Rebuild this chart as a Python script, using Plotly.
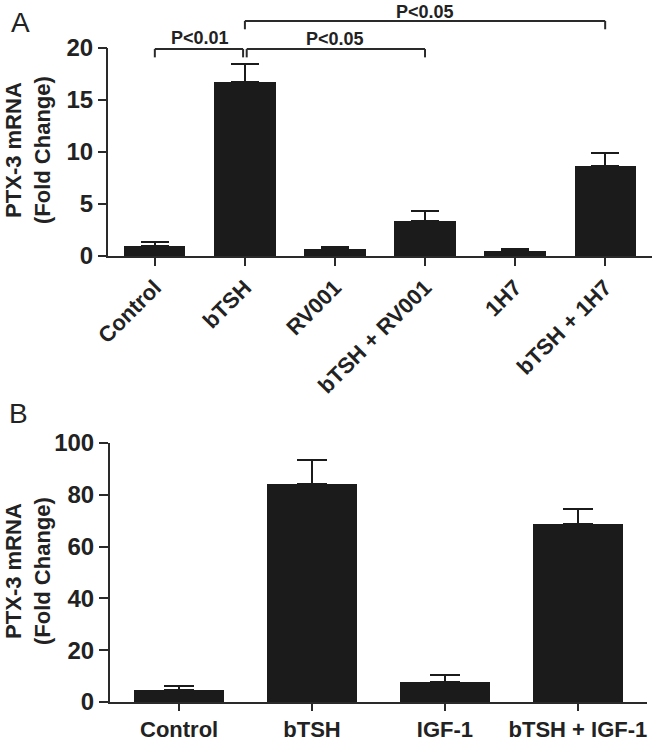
import plotly.graph_objects as go

# ---------------- data ----------------
cats_a = ["Control", "bTSH", "RV001", "bTSH + RV001", "1H7", "bTSH + 1H7"]
mean_a = [1.0, 16.7, 0.72, 3.4, 0.47, 8.7]
sem_a = [0.32, 1.8, 0.17, 0.9, 0.17, 1.2]

cats_b = ["Control", "bTSH", "IGF-1", "bTSH + IGF-1"]
mean_b = [4.8, 84.2, 7.6, 68.6]
sem_b = [1.4, 9.2, 2.7, 5.9]

yticks_a = [0, 5, 10, 15, 20]
yticks_b = [0, 20, 40, 60, 80, 100]

# significance comparisons (from index, to index, label)
comparisons = [(0, 1, "P<0.01"), (1, 3, "P<0.05"), (1, 5, "P<0.05")]

# ---------------- style ----------------
W, H = 652, 745
FONT = "Liberation Sans, Arial, Helvetica, sans-serif"
BAR = "#1b1b1b"
AX = "#2a2a2a"
TXT = "#222222"

xa_dom = [108 / W, 1.0]
ya_dom = [1 - 256 / H, 1.0]
ya_top = 256 / 10.4
xb_dom = [110 / W, 647 / W]
yb_dom = [1 - 702 / H, 1 - 443 / H]

fig = go.Figure()
fig.add_trace(go.Bar(
    x=cats_a, y=mean_a, width=0.68, marker=dict(color=BAR, line=dict(width=0)),
    error_y=dict(type="data", symmetric=False, array=sem_a, arrayminus=[0] * len(sem_a),
                 thickness=2, width=14, color=BAR),
    xaxis="x", yaxis="y", showlegend=False, hoverinfo="skip"))
fig.add_trace(go.Bar(
    x=cats_b, y=mean_b, width=0.68, marker=dict(color=BAR, line=dict(width=0)),
    error_y=dict(type="data", symmetric=False, array=sem_b, arrayminus=[0] * len(sem_b),
                 thickness=2, width=15, color=BAR),
    xaxis="x2", yaxis="y2", showlegend=False, hoverinfo="skip"))

tickfont_y = dict(family=FONT, size=24, color=TXT, weight="bold")
common = dict(automargin=False, showgrid=False, zeroline=False, tickwidth=2, tickcolor=AX,
              ticks="outside")

fig.update_layout(
    template="none",
    width=W, height=H, margin=dict(l=0, r=0, t=0, b=0, pad=0), autosize=False,
    paper_bgcolor="white", plot_bgcolor="white",
    bargap=0,
    xaxis=dict(domain=xa_dom, anchor="y", type="category", categoryorder="array",
               categoryarray=cats_a, range=[-0.52, len(cats_a) - 0.48],
               showline=True, linewidth=2, linecolor=AX, ticklen=8, tickangle=-45,
               tickfont=dict(family=FONT, size=22, color=TXT, weight="bold"), **common),
    yaxis=dict(domain=ya_dom, anchor="x", range=[0, ya_top], tickvals=yticks_a,
               showline=False, ticklen=9, tickfont=tickfont_y, **common),
    xaxis2=dict(domain=xb_dom, anchor="y2", type="category", categoryorder="array",
                categoryarray=cats_b, range=[-0.52, len(cats_b) - 0.48],
                showline=True, linewidth=2, linecolor=AX, ticklen=7,
                tickfont=dict(family=FONT, size=22, color=TXT, weight="bold"), **common),
    yaxis2=dict(domain=yb_dom, anchor="x2", range=[0, 100], tickvals=yticks_b,
                showline=True, linewidth=2, linecolor=AX, ticklen=9,
                tickfont=tickfont_y, **common),
)

shapes = []
# y-axis line of panel A, from 0 to the top tick only
top_paper = ya_dom[0] + yticks_a[-1] / ya_top * (ya_dom[1] - ya_dom[0])
shapes.append(dict(type="line", xref="paper", yref="paper", x0=xa_dom[0] - 1 / W,
                   x1=xa_dom[0] - 1 / W, y0=ya_dom[0] - 2 / H, y1=top_paper,
                   line=dict(color=AX, width=2)))

annotations = []
levels = [19.9, 19.9, 22.6]
text_levels = [21.0, 20.9, 23.5]
for k, (i, j, lab) in enumerate(comparisons):
    hy = levels[k]
    leg = 0.8
    x0 = i + (0.02 if k == 1 else 0)
    x1 = j - (0.02 if k == 0 else 0)
    for (a, b, c, d) in [(x0, hy, x1, hy), (x0, hy, x0, hy - leg), (x1, hy, x1, hy - leg)]:
        shapes.append(dict(type="line", xref="x", yref="y", x0=a, y0=b, x1=c, y1=d,
                           line=dict(color=AX, width=2)))
    annotations.append(dict(x=(i + j) / 2, y=text_levels[k], xref="x", yref="y", text=lab,
                            showarrow=False, yanchor="middle", xanchor="center",
                            borderpad=0,
                            font=dict(family=FONT, size=18, color=TXT, weight="bold")))

ytitle = "PTX-3 mRNA<br>(Fold Change)"
for yc in [1 - 150 / H, 1 - 571 / H]:
    annotations.append(dict(x=28 / W, y=yc, xref="paper", yref="paper", text=ytitle,
                            textangle=-90, showarrow=False, xanchor="center", yanchor="middle",
                            font=dict(family=FONT, size=22, color=TXT, weight="bold")))
for lab, xx, yy in [("A", 20 / W, 1 - 22 / H), ("B", 18 / W, 1 - 413 / H)]:
    annotations.append(dict(x=xx, y=yy, xref="paper", yref="paper", text=lab,
                            showarrow=False, xanchor="center", yanchor="middle",
                            font=dict(family=FONT, size=28, color=TXT)))

fig.update_layout(shapes=shapes, annotations=annotations)
fig.write_html("out.html", config={"displayModeBar": False, "staticPlot": True},
               post_script="document.body.style.margin='0px';document.body.style.overflow='hidden';")
